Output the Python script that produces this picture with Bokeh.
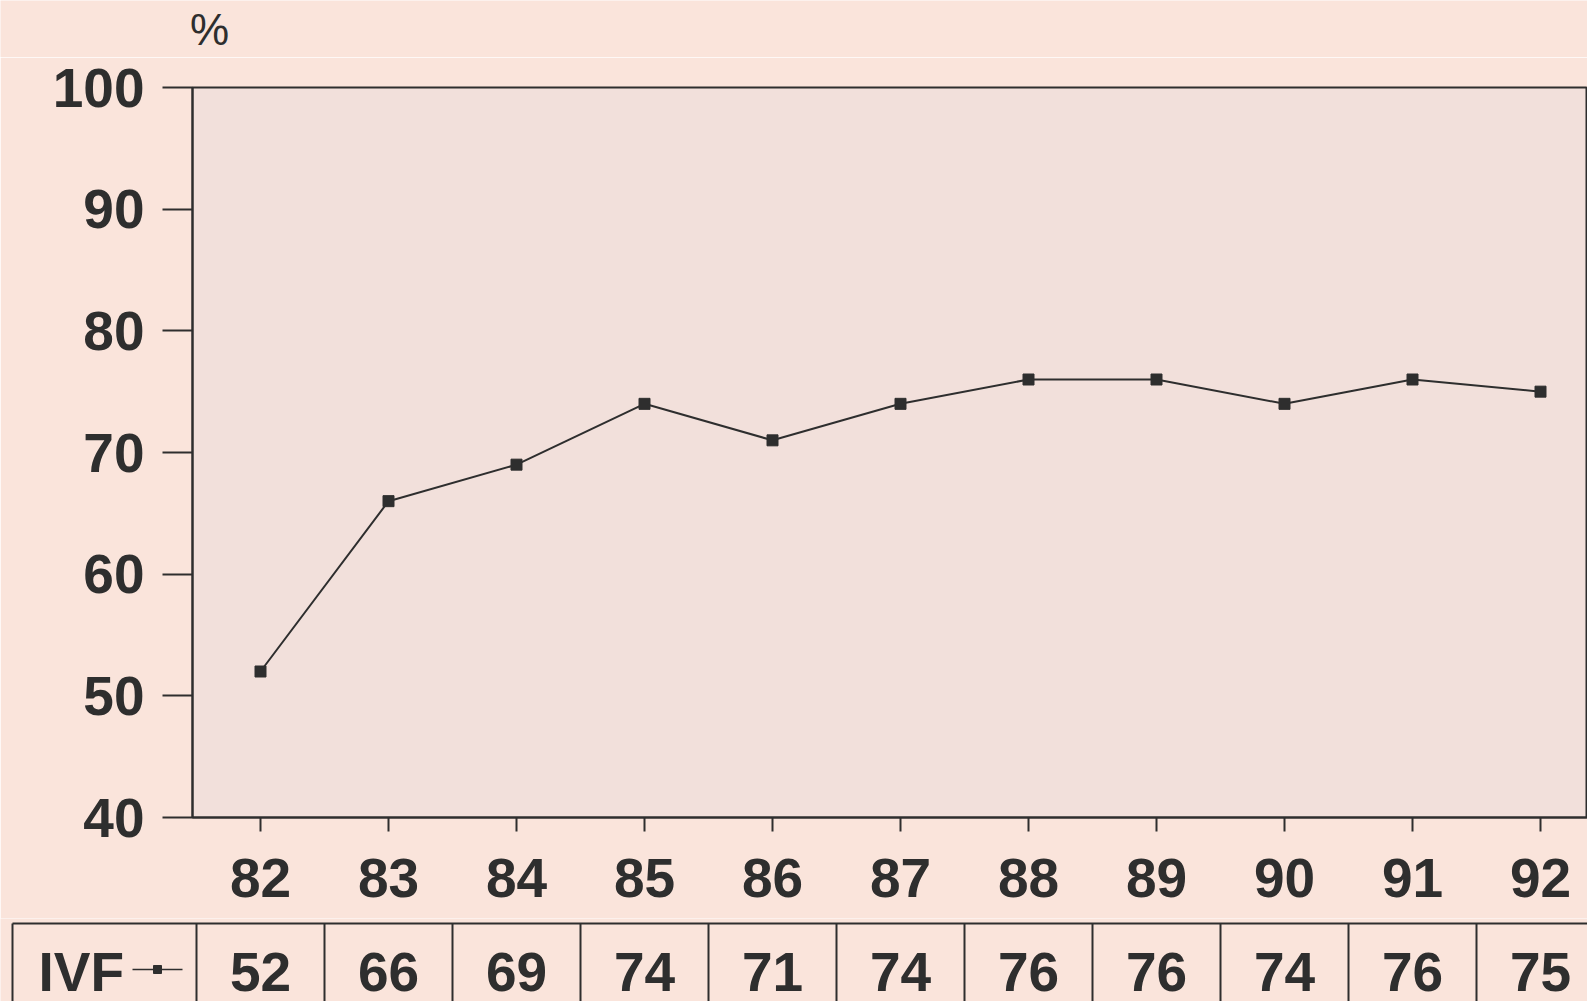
from bokeh.plotting import figure
from bokeh.layouts import column
from bokeh.models import Range1d, FixedTicker
from bokeh.embed import file_html
from bokeh.resources import INLINE
from bokeh.core.properties import value

# ---- data ----
years = [82, 83, 84, 85, 86, 87, 88, 89, 90, 91, 92]
ivf = [52, 66, 69, 74, 71, 74, 76, 76, 74, 76, 75]
y_ticks = [40, 50, 60, 70, 80, 90, 100]
series_name = "IVF"
unit_label = "%"

# ---- layout constants ----
W = 1587
TOP_H = 57
MAIN_H = 861
TABLE_H = 83
PX_PER_YEAR = 128.0
FIRST_TICK_PX = 260
FRAME_LEFT = 192
FRAME_TOP = 30
FRAME_H = 730
BG = "#FAE4DB"
PLOT_BG = "#F2E0DB"
INK = "#2E2E2E"
FONT = "Liberation Sans"
LABEL_SIZE = "55px"

# ---- unit label strip ----
u = figure(width=W, height=TOP_H, output_backend="svg", toolbar_location=None,
           x_range=Range1d(0, W), y_range=Range1d(0, TOP_H),
           x_axis_type=None, y_axis_type=None, min_border=0, frame_align=False)
u.grid.visible = False
u.outline_line_color = None
u.background_fill_color = BG
u.border_fill_color = BG
u.text(x=[209], y=[TOP_H - 29], text=[unit_label], text_align="center",
       text_baseline="middle", text_font=value(FONT), text_font_size="44px",
       text_color=INK)

# ---- main chart ----
x_start = years[0] - (FIRST_TICK_PX - FRAME_LEFT) / PX_PER_YEAR
x_end = x_start + (W - FRAME_LEFT) / PX_PER_YEAR

p = figure(width=W, height=MAIN_H, output_backend="svg", toolbar_location=None,
           x_range=Range1d(x_start, x_end), y_range=Range1d(y_ticks[0], y_ticks[-1]),
           min_border_left=FRAME_LEFT, min_border_top=FRAME_TOP, min_border_right=0,
           min_border_bottom=MAIN_H - FRAME_TOP - FRAME_H, frame_align=False)
p.background_fill_color = PLOT_BG
p.border_fill_color = BG
p.outline_line_color = INK
p.outline_line_width = 2
p.grid.visible = False

p.xaxis.ticker = FixedTicker(ticks=years)
p.yaxis.ticker = FixedTicker(ticks=y_ticks)
for ax in (p.xaxis, p.yaxis):
    ax.axis_line_color = INK
    ax.axis_line_width = 2
    ax.major_tick_line_color = INK
    ax.major_tick_line_width = 2
    ax.major_tick_in = 0
    ax.minor_tick_line_color = None
    ax.major_label_text_font = FONT
    ax.major_label_text_font_size = LABEL_SIZE
    ax.major_label_text_font_style = "bold"
    ax.major_label_text_color = INK
p.xaxis.major_tick_out = 14
p.xaxis.major_label_standoff = 27
p.yaxis.major_tick_out = 30
p.yaxis.major_label_standoff = 18

p.line(years, ivf, line_width=2, line_color=INK)
p.scatter(years, ivf, marker="square", size=11, fill_color=INK, line_color=INK)

# ---- table ----
t_start = years[0] - FIRST_TICK_PX / PX_PER_YEAR
t_left = years[0] - (FIRST_TICK_PX - 12) / PX_PER_YEAR
ROW_TOP = TABLE_H - 5
TEXT_Y = TABLE_H - 53

t = figure(width=W, height=TABLE_H, output_backend="svg", toolbar_location=None,
           x_range=Range1d(t_start, x_end), y_range=Range1d(0, TABLE_H),
           x_axis_type=None, y_axis_type=None, min_border=0, frame_align=False)
t.grid.visible = False
t.outline_line_color = None
t.background_fill_color = BG
t.border_fill_color = BG

bounds = [t_left] + [yr - 0.5 for yr in years]
t.segment(x0=bounds, y0=[0] * len(bounds), x1=bounds, y1=[ROW_TOP] * len(bounds),
          line_color=INK, line_width=2)
t.segment(x0=[t_left], y0=[ROW_TOP], x1=[x_end], y1=[ROW_TOP], line_color=INK, line_width=2)

t.text(x=years, y=[TEXT_Y] * len(years), text=[str(v) for v in ivf],
       text_align="center", text_baseline="middle", text_font=value(FONT),
       text_font_size=LABEL_SIZE, text_font_style="bold", text_color=INK)
t.text(x=[t_left], y=[TEXT_Y], text=[series_name], x_offset=26,
       text_align="left", text_baseline="middle", text_font=value(FONT),
       text_font_size=LABEL_SIZE, text_font_style="bold", text_color=INK)
sym_x0 = t_left + 120 / PX_PER_YEAR
sym_x1 = t_left + 170 / PX_PER_YEAR
t.segment(x0=[sym_x0], y0=[TEXT_Y + 2], x1=[sym_x1], y1=[TEXT_Y + 2], line_color=INK, line_width=1.5)
t.scatter(x=[(sym_x0 + sym_x1) / 2], y=[TEXT_Y + 2], marker="square", size=8,
          fill_color=INK, line_color=INK)

layout = column(u, p, t, spacing=0)
open("out.html", "w").write(file_html(layout, INLINE))
